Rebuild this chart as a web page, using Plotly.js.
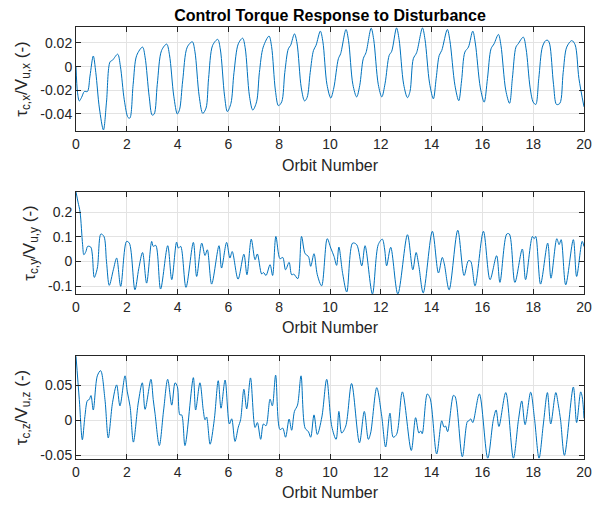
<!DOCTYPE html>
<html>
<head>
<meta charset="utf-8">
<script src="https://cdn.plot.ly/plotly-3.0.1.min.js"></script>
<style>
html,body{margin:0;padding:0;background:#fff;}
#chart{width:598px;height:507px;}
</style>
</head>
<body>
<div id="chart"></div>
<script>
// ---- Data (orbit number, normalized torque) ----
const orbitX = [0,0.06,0.13,0.22,0.33,0.45,0.55,0.68,0.78,0.92,1.08,1.2,1.34,1.44,1.64,1.75,1.9,2.05,2.12,2.25,2.39,2.62,2.72,2.88,3.0,3.08,3.2,3.37,3.57,3.68,3.85,3.99,4.08,4.2,4.38,4.58,4.68,4.85,4.99,5.12,5.22,5.38,5.58,5.68,5.85,5.96,6.1,6.22,6.39,6.56,6.66,6.83,6.96,7.11,7.22,7.37,7.6,7.7,7.85,7.97,8.1,8.22,8.36,8.45,8.6,8.7,8.87,9.0,9.1,9.22,9.35,9.45,9.62,9.72,9.88,10.03,10.15,10.33,10.42,10.63,10.73,10.9,11.05,11.17,11.31,11.42,11.62,11.72,11.9,12.04,12.17,12.33,12.43,12.62,12.72,12.9,13.05,13.15,13.28,13.41,13.64,13.74,13.92,14.07,14.18,14.3,14.4,14.62,14.72,14.92,15.07,15.18,15.31,15.45,15.62,15.72,15.92,16.07,16.2,16.34,16.46,16.63,16.73,16.92,17.07,17.18,17.32,17.41,17.61,17.72,17.88,18.0,18.1,18.22,18.36,18.49,18.58,18.65,18.8,18.92,19.05,19.18,19.32,19.52,19.65,19.8,20.0];
const tauX = [0,-0.022,-0.029,-0.026,-0.021,-0.021,-0.008,0.009,-0.005,-0.035,-0.0535,-0.030,0.004,0.0055,0.0105,0.0,-0.028,-0.043,-0.0435,-0.015,0.0095,0.0165,0.008,-0.025,-0.041,-0.040,-0.015,0.0137,0.019,0.010,-0.025,-0.040,-0.036,-0.012,0.0165,0.021,0.013,-0.025,-0.0395,-0.035,-0.010,0.018,0.023,0.015,-0.025,-0.038,-0.031,-0.005,0.0193,0.024,0.016,-0.025,-0.0367,-0.0297,-0.005,0.0165,0.0258,0.017,-0.02,-0.033,-0.0297,-0.005,0.0151,0.018,0.0277,0.02,-0.018,-0.029,-0.026,-0.005,0.0137,0.018,0.030,0.021,-0.015,-0.0265,-0.018,0.0067,0.011,0.0314,0.022,-0.015,-0.0256,-0.016,0.0067,0.012,0.0325,0.023,-0.015,-0.0256,-0.014,0.0095,0.013,0.0327,0.023,-0.015,-0.0262,-0.021,0.0067,0.0118,0.0327,0.023,-0.014,-0.0272,-0.01,0.0095,0.0137,0.0314,0.022,-0.016,-0.0288,-0.012,0.0123,0.0165,0.030,0.02,-0.018,-0.030,-0.01,0.0151,0.0193,0.0272,0.018,-0.02,-0.031,-0.01,0.0165,0.0193,0.0249,0.015,-0.018,-0.030,-0.032,-0.01,0.0165,0.022,0.0222,0.019,-0.015,-0.032,-0.031,-0.005,0.0165,0.022,0.0185,-0.01,-0.034];

const orbitY = [0,0.08,0.16,0.26,0.31,0.39,0.46,0.58,0.64,0.72,0.84,0.98,1.1,1.2,1.31,1.47,1.6,1.76,1.99,2.1,2.32,2.47,2.62,2.78,2.98,3.04,3.14,3.33,3.61,3.77,3.96,4.03,4.12,4.33,4.62,4.75,4.95,5.08,5.17,5.34,5.63,5.73,5.93,6.06,6.15,6.38,6.61,6.73,6.9,7.05,7.14,7.31,7.38,7.48,7.64,7.74,7.87,8.03,8.14,8.25,8.39,8.49,8.58,8.73,8.88,9.02,9.15,9.24,9.37,9.5,9.67,9.89,10.03,10.16,10.26,10.35,10.5,10.66,10.89,11.05,11.25,11.38,11.67,11.9,12.06,12.15,12.23,12.39,12.67,13.05,13.26,13.39,13.5,13.67,14.03,14.27,14.42,14.5,14.69,15.03,15.28,15.45,15.54,15.71,16.04,16.3,16.56,16.69,16.96,17.06,17.28,17.57,17.7,17.97,18.04,18.1,18.29,18.57,18.7,18.93,19.02,19.1,19.28,19.58,19.71,19.93,20.0];
const tauY = [0.281,0.24,0.20,0.068,0.027,0.04,0.061,0.058,0.03,-0.065,-0.027,0.111,0.101,0.0,-0.097,-0.034,0.0135,-0.101,0.081,0.074,-0.115,-0.03,0.036,-0.088,0.081,0.061,0.065,-0.112,0.0635,-0.074,0.078,0.054,0.061,-0.105,0.077,-0.061,0.074,0.024,0.047,-0.092,0.0635,-0.027,0.077,0.0135,0.04,-0.072,0.029,-0.054,0.09,0.007,0.03,-0.051,-0.045,-0.057,-0.0135,-0.057,0.101,0.011,0.016,-0.034,-0.004,-0.054,-0.052,-0.07,0.101,0.031,0.02,-0.02,0.031,-0.054,-0.099,0.092,0.054,0.02,-0.016,0.058,-0.05,-0.124,0.074,0.068,-0.018,0.0635,-0.132,0.068,0.09,0.05,-0.018,0.057,-0.132,0.108,-0.034,0.036,-0.02,-0.128,0.122,-0.047,0.016,-0.01,-0.115,0.126,-0.057,0.003,0.0,-0.099,0.122,-0.074,0.023,-0.085,0.111,0.111,-0.085,0.05,-0.074,0.101,0.092,0.101,-0.092,0.074,-0.068,0.092,0.068,0.088,-0.095,0.088,-0.061,0.081,0.06];

const orbitZ = [0,0.13,0.25,0.35,0.45,0.52,0.59,0.68,0.84,0.97,1.14,1.27,1.44,1.6,1.73,1.93,2.02,2.13,2.26,2.45,2.61,2.72,2.95,3.04,3.11,3.28,3.45,3.61,3.77,3.9,3.99,4.09,4.16,4.29,4.62,4.71,4.88,5.01,5.08,5.14,5.28,5.44,5.6,5.71,5.87,6.04,6.13,6.26,6.39,6.48,6.61,6.72,6.87,7.05,7.14,7.27,7.38,7.48,7.64,7.73,7.86,8.03,8.14,8.25,8.39,8.49,8.6,8.72,8.86,9.02,9.15,9.24,9.37,9.5,9.68,9.87,10.07,10.24,10.35,10.46,10.62,10.85,11.16,11.35,11.51,11.6,11.84,12.03,12.19,12.36,12.49,12.62,12.85,13.2,13.37,13.5,13.57,13.63,13.83,13.94,14.2,14.4,14.49,14.55,14.63,14.86,14.93,15.21,15.41,15.47,15.54,15.62,15.88,16.21,16.43,16.54,16.65,16.92,17.22,17.42,17.55,17.68,17.9,18.05,18.23,18.4,18.56,18.69,18.89,18.99,19.08,19.23,19.58,19.71,19.87,19.93,20.0];
const tauZ = [0.092,0.03,-0.0276,0.0057,0.0286,0.03,0.0357,0.015,0.064,0.0714,0.03,-0.025,0.026,0.051,0.021,0.064,0.041,0.02,-0.031,0.025,0.054,0.016,0.059,0.03,0.0105,-0.036,0.015,0.059,0.022,0.054,0.0486,0.008,0.008,-0.036,0.0614,0.015,0.054,0.015,0.001,0.005,-0.034,0.0,0.057,0.0176,0.058,-0.005,0.0024,-0.03,-0.0095,0.001,0.0448,0.0166,0.061,-0.01,-0.003,-0.027,-0.005,-0.0076,0.0305,0.021,0.065,-0.013,-0.011,-0.024,0.002,-0.014,0.013,0.022,0.064,-0.011,-0.016,-0.024,0.008,-0.02,0.005,0.059,-0.0086,-0.027,0.013,-0.018,-0.008,0.053,-0.032,0.013,-0.027,-0.018,0.047,0.008,-0.038,0.0105,-0.024,-0.02,0.041,-0.043,0.004,-0.018,-0.015,-0.019,0.038,0.032,-0.048,-0.0005,-0.0095,-0.008,-0.016,0.036,0.034,-0.052,-0.0014,-0.0005,0.0024,-0.003,0.038,-0.054,0.001,0.015,-0.0086,0.04,-0.054,0.001,0.028,-0.006,0.0405,0.003,-0.054,-0.005,0.04,-0.005,0.04,0.022,0.0,-0.05,0.048,-0.003,0.041,0.034,0.003];

const xTickVals = [0,2,4,6,8,10,12,14,16,18,20];
const xTickText = ['0','2','4','6','8','10','12','14','16','18','20'];
const y1TickVals = [-0.04,-0.02,0,0.02];
const y1TickText = ['-0.04','-0.02','0','0.02'];
const y2TickVals = [-0.1,0,0.1,0.2];
const y2TickText = ['-0.1','0','0.1','0.2'];
const y3TickVals = [-0.05,0,0.05];
const y3TickText = ['-0.05','0','0.05'];

const chartTitle = 'Control Torque Response to Disturbance';
const xTitle = 'Orbit Number';
const yTitles = ['τ<sub>c,x</sub>/V<sub>u,x</sub> (-)','τ<sub>c,y</sub>/V<sub>u,y</sub> (-)','τ<sub>c,z</sub>/V<sub>u,z</sub> (-)'];

// ---- Styling ----
const lineColor = '#0072BD';
const axColor = '#262626';
const gridColor = '#e3e3e3';
const fontFam = 'Liberation Sans, Arial, Helvetica, sans-serif';

function trace(x, y, xa, ya) {
  return {x: x, y: y, xaxis: xa, yaxis: ya, type: 'scatter', mode: 'lines',
    line: {color: lineColor, width: 1, shape: 'spline', smoothing: 0.9},
    hoverinfo: 'skip', showlegend: false};
}

function xAxis(anchor) {
  return {anchor: anchor, range: [0, 20], tickvals: xTickVals, ticktext: xTickText,
    showgrid: true, gridcolor: gridColor, gridwidth: 1, zeroline: false,
    showline: true, linecolor: axColor, linewidth: 1, mirror: 'ticks',
    ticks: 'inside', ticklen: 5, tickcolor: axColor, tickwidth: 1,
    tickfont: {family: fontFam, size: 14, color: axColor},
    title: {text: xTitle, font: {family: fontFam, size: 16, color: axColor}, standoff: 8}};
}
function yAxis(anchor, dom, rng, tv, tt, ttl) {
  return {anchor: anchor, domain: dom, range: rng, tickvals: tv, ticktext: tt,
    showgrid: true, gridcolor: gridColor, gridwidth: 1, zeroline: false,
    showline: true, linecolor: axColor, linewidth: 1, mirror: 'ticks',
    ticks: 'inside', ticklen: 5, tickcolor: axColor, tickwidth: 1,
    tickfont: {family: fontFam, size: 14, color: axColor},
    title: {text: ttl, font: {family: fontFam, size: 17, color: axColor}, standoff: 8}};
}

const data = [
  trace(orbitX, tauX, 'x', 'y'),
  trace(orbitY, tauY, 'x2', 'y2'),
  trace(orbitZ, tauZ, 'x3', 'y3')
];

const layout = {
  width: 598, height: 507,
  margin: {l: 76, r: 14, t: 27, b: 48},
  paper_bgcolor: '#ffffff', plot_bgcolor: '#ffffff',
  font: {family: fontFam, color: axColor},
  title: {text: '<b>' + chartTitle + '</b>', font: {family: fontFam, size: 16, color: '#000'},
    xref: 'paper', x: 0.5, xanchor: 'center', yref: 'container', y: 0.969, yanchor: 'middle'},
  xaxis: xAxis('y'),
  xaxis2: xAxis('y2'),
  xaxis3: xAxis('y3'),
  yaxis: yAxis('x', [0.759, 1.0], [-0.0545, 0.0335], y1TickVals, y1TickText, yTitles[0]),
  yaxis2: yAxis('x2', [0.382, 0.618], [-0.132, 0.281], y2TickVals, y2TickText, yTitles[1]),
  yaxis3: yAxis('x3', [0, 0.2384], [-0.0552, 0.0924], y3TickVals, y3TickText, yTitles[2])
};

Plotly.newPlot('chart', data, layout, {staticPlot: true, displayModeBar: false});
</script>
</body>
</html>
